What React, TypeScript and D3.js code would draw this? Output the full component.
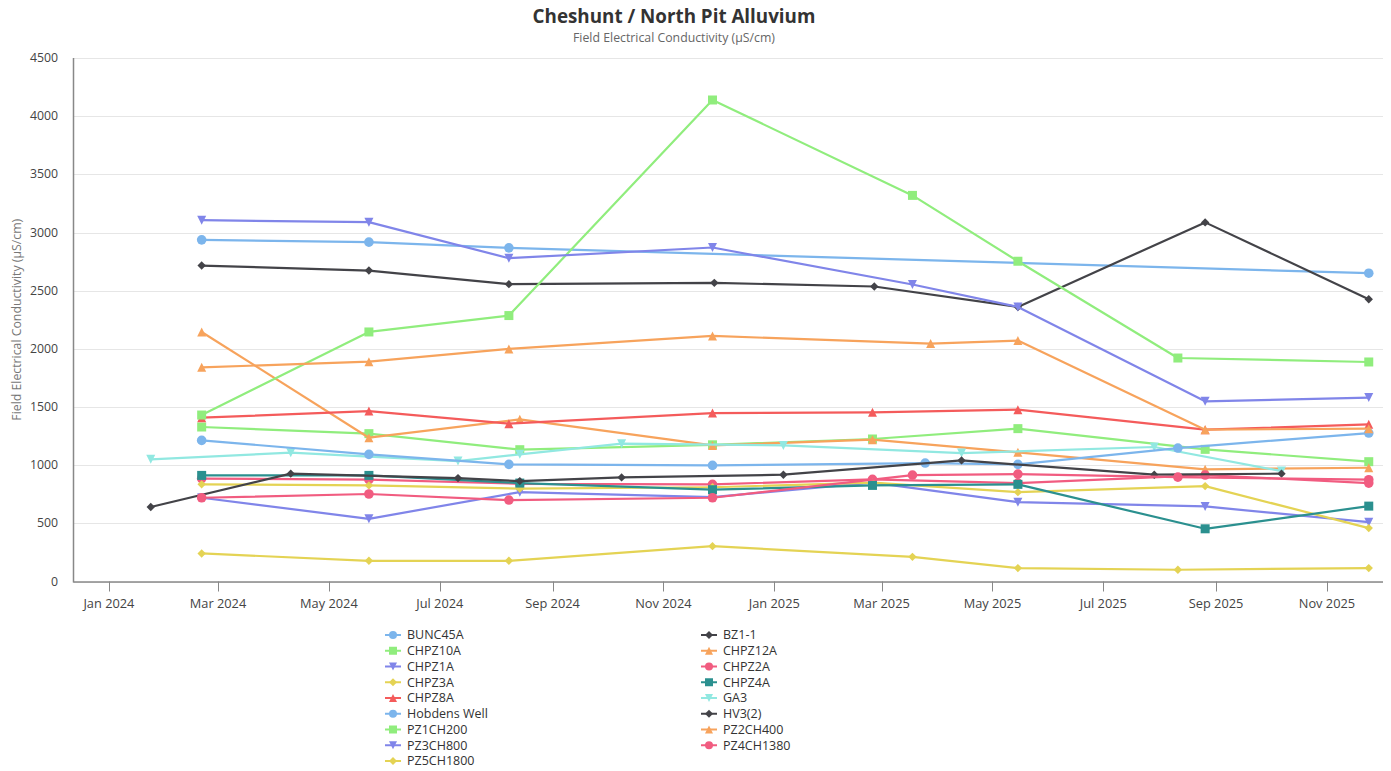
import React from "react";
import * as d3 from "d3";

// ---------- DATA ----------
const seriesNames = [
  "BUNC45A", "BZ1-1", "CHPZ10A", "CHPZ12A", "CHPZ1A", "CHPZ2A", "CHPZ3A", "CHPZ4A", "CHPZ8A",
  "GA3", "Hobdens Well", "HV3(2)", "PZ1CH200", "PZ2CH400", "PZ3CH800", "PZ4CH1380", "PZ5CH1800",
];

const palette = ["#7cb5ec", "#434348", "#90ed7d", "#f7a35c", "#8085e9", "#f15c80", "#e4d354", "#2b908f", "#f45b5b", "#91e8e1"];
const symbolCycle = ["circle", "diamond", "square", "triangle", "triangle-down"];

const yTicks = [0, 500, 1000, 1500, 2000, 2500, 3000, 3500, 4000, 4500];

const bunc45aDates = ["2024-02-21", "2024-05-23", "2024-08-08", "2025-11-24"];
const bunc45aValues = [2937, 2917, 2868, 2650];

const bz11Dates = ["2024-02-21", "2024-05-23", "2024-08-08", "2024-11-29", "2025-02-25", "2025-05-15", "2025-08-26", "2025-11-24"];
const bz11Values = [2716, 2673, 2556, 2567, 2536, 2360, 3087, 2426];

const chpzDates = ["2024-02-21", "2024-05-23", "2024-08-14", "2024-11-28", "2025-02-24", "2025-05-15", "2025-08-26", "2025-11-24"];
const chpz10aValues = [1328, 1271, 1133, 1175, 1225, 1314, 1136, 1030];
const chpz12aValues = [2145, 1236, 1394, 1170, 1219, 1110, 964, 978];
const chpz1aValues = [720, 539, 768, 725, 850, 682, 645, 510];
const chpz2aValues = [885, 875, 840, 835, 878, 846, 915, 846];
const chpz3aValues = [835, 826, 798, 810, 850, 768, 820, 459];
const chpz4aValues = [912, 912, 846, 789, 826, 835, 453, 648];

const chpz8aDates = ["2024-02-21", "2024-05-23", "2024-08-08", "2024-11-28", "2025-02-24", "2025-05-15", "2025-08-26", "2025-11-24"];
const chpz8aValues = [1408, 1465, 1357, 1448, 1454, 1477, 1305, 1351];

const ga3Dates = ["2024-01-24", "2024-04-10", "2024-07-11", "2024-08-14", "2024-10-09", "2025-01-06", "2025-04-14", "2025-07-29", "2025-10-07"];
const ga3Values = [1050, 1107, 1035, 1093, 1185, 1170, 1104, 1156, 949];
const hv32Values = [640, 927, 889, 863, 895, 918, 1041, 918, 927];

const hobdensDates = ["2024-02-21", "2024-05-23", "2024-08-08", "2024-11-28", "2025-03-25", "2025-05-15", "2025-08-11", "2025-11-24"];
const hobdensValues = [1213, 1093, 1007, 998, 1018, 1007, 1147, 1276];

const pzDates = ["2024-02-21", "2024-05-23", "2024-08-08", "2024-11-28", "2025-03-18", "2025-05-15", "2025-08-11", "2025-11-24"];
const pz1ch200Values = [1431, 2145, 2286, 4139, 3319, 2753, 1921, 1887];
const pz4ch1380Values = [720, 752, 700, 720, 915, 923, 897, 875];
const pz5ch1800Values = [241, 178, 178, 304, 212, 115, 101, 115];

const pz2ch400Dates = ["2024-02-21", "2024-05-23", "2024-08-08", "2024-11-28", "2025-03-28", "2025-05-15", "2025-08-26", "2025-11-24"];
const pz2ch400Values = [1841, 1890, 1999, 2111, 2045, 2071, 1305, 1314];

const pz3ch800Dates = ["2024-02-21", "2024-05-23", "2024-08-08", "2024-11-28", "2025-03-18", "2025-05-15", "2025-08-26", "2025-11-24"];
const pz3ch800Values = [3106, 3089, 2779, 2871, 2553, 2360, 1549, 1581];

const seriesDates = [
  bunc45aDates, bz11Dates, chpzDates, chpzDates, chpzDates, chpzDates, chpzDates, chpzDates, chpz8aDates,
  ga3Dates, hobdensDates, ga3Dates, pzDates, pz2ch400Dates, pz3ch800Dates, pzDates, pzDates,
];
const seriesValues = [
  bunc45aValues, bz11Values, chpz10aValues, chpz12aValues, chpz1aValues, chpz2aValues, chpz3aValues, chpz4aValues, chpz8aValues,
  ga3Values, hobdensValues, hv32Values, pz1ch200Values, pz2ch400Values, pz3ch800Values, pz4ch1380Values, pz5ch1800Values,
];

// ---------- LAYOUT ----------
const W = 1391;
const H = 771;
const plotLeft = 73.5;
const plotRight = 1383;
const plotTop = 58;
const plotBottom = 581.5;
const FONT = "'Open Sans', 'Noto Sans', sans-serif";

const parse = d3.timeParse("%Y-%m-%d");

function markerPath(sym: string, x: number, y: number, r: number): string {
  switch (sym) {
    case "diamond":
      return `M${x},${y - r}L${x + r},${y}L${x},${y + r}L${x - r},${y}Z`;
    case "square":
      return `M${x - r},${y - r}L${x + r},${y - r}L${x + r},${y + r}L${x - r},${y + r}Z`;
    case "triangle":
      return `M${x},${y - r}L${x + r},${y + r}L${x - r},${y + r}Z`;
    case "triangle-down":
      return `M${x - r},${y - r}L${x + r},${y - r}L${x},${y + r}Z`;
    default:
      return `M${x - r},${y}A${r},${r} 0 1,0 ${x + r},${y}A${r},${r} 0 1,0 ${x - r},${y}Z`;
  }
}

export default function App() {
  const x = d3
    .scaleTime()
    .domain([new Date(2023, 11, 12, 12), new Date(2025, 11, 1, 20)])
    .range([plotLeft, plotRight]);
  const y = d3.scaleLinear().domain([0, 4500]).range([plotBottom, plotTop]);

  const xTicks = x.ticks(d3.timeMonth.every(2) as any);
  const fmt = d3.timeFormat("%b %Y");

  const series = seriesNames.map((name, i) => ({
    name,
    color: palette[i % palette.length],
    symbol: symbolCycle[i % symbolCycle.length],
    points: seriesDates[i].map((d, j) => ({ date: parse(d) as Date, value: seriesValues[i][j] })),
  }));

  const line = d3
    .line<{ date: Date; value: number }>()
    .x((d) => x(d.date))
    .y((d) => y(d.value));

  const legendRowY = 635;
  const legendRowH = 15.75;

  return (
    <svg
      width={W}
      height={H}
      style={{ position: "absolute", left: 0, top: 0, background: "#fff" }}
      fontFamily={FONT}
    >
      <rect x={0} y={0} width={W} height={H} fill="#fff" />
      {/* Title */}
      <text x={674} y={23} textAnchor="middle" fontSize={18.8} fontWeight={700} fill="#333">
        Cheshunt / North Pit Alluvium
      </text>
      <text x={674} y={42} textAnchor="middle" fontSize={12.3} fill="#666">
        Field Electrical Conductivity (µS/cm)
      </text>

      {/* Grid */}
      {yTicks.map((t) => (
        <line key={"g" + t} x1={plotLeft} x2={plotRight} y1={Math.round(y(t)) + 0.5} y2={Math.round(y(t)) + 0.5} stroke="#e6e6e6" strokeWidth={1} />
      ))}
      {/* Y labels */}
      {yTicks.map((t) => (
        <text key={"yl" + t} x={58} y={y(t) + 4} textAnchor="end" fontSize={12.3} fill="#444">
          {t}
        </text>
      ))}
      <text
        transform={`translate(21,${(plotTop + plotBottom) / 2}) rotate(-90)`}
        textAnchor="middle"
        fontSize={12.3}
        fill="#777"
      >
        Field Electrical Conductivity (µS/cm)
      </text>

      {/* Axes */}
      <line x1={plotLeft} x2={plotLeft} y1={plotTop} y2={plotBottom + 1} stroke="#888" strokeWidth={1.5} />
      <line x1={plotLeft} x2={plotRight} y1={plotBottom + 0.5} y2={plotBottom + 0.5} stroke="#888" strokeWidth={1.5} />
      {xTicks.map((t) => (
        <g key={"xt" + t.getTime()}>
          <line x1={Math.round(x(t)) + 0.5} x2={Math.round(x(t)) + 0.5} y1={plotBottom} y2={plotBottom + 10} stroke="#888" strokeWidth={1} />
          <text x={x(t)} y={608} textAnchor="middle" fontSize={12.8} fill="#444">
            {fmt(t)}
          </text>
        </g>
      ))}

      {/* Series */}
      {series.map((s) => (
        <g key={s.name}>
          <path d={line(s.points) || ""} fill="none" stroke={s.color} strokeWidth={2.2} strokeLinejoin="round" strokeLinecap="round" />
          {s.points.map((p, j) => (
            <path key={j} d={markerPath(s.symbol, x(p.date), y(p.value), s.symbol === "diamond" ? 4.2 : s.symbol === "circle" ? 4.8 : 4.5)} fill={s.color} />
          ))}
        </g>
      ))}

      {/* Legend */}
      {series.map((s, i) => {
        const col = i % 2;
        const row = Math.floor(i / 2);
        const cx = col === 0 ? 393 : 709;
        const tx = col === 0 ? 407 : 723;
        const cy = legendRowY + row * legendRowH;
        return (
          <g key={"lg" + s.name}>
            <line x1={cx - 8} x2={cx + 8} y1={cy} y2={cy} stroke={s.color} strokeWidth={2} />
            <path d={markerPath(s.symbol, cx, cy, 4)} fill={s.color} />
            <text x={tx} y={cy + 4.3} fontSize={12.5} fill="#333">
              {s.name}
            </text>
          </g>
        );
      })}
    </svg>
  );
}
